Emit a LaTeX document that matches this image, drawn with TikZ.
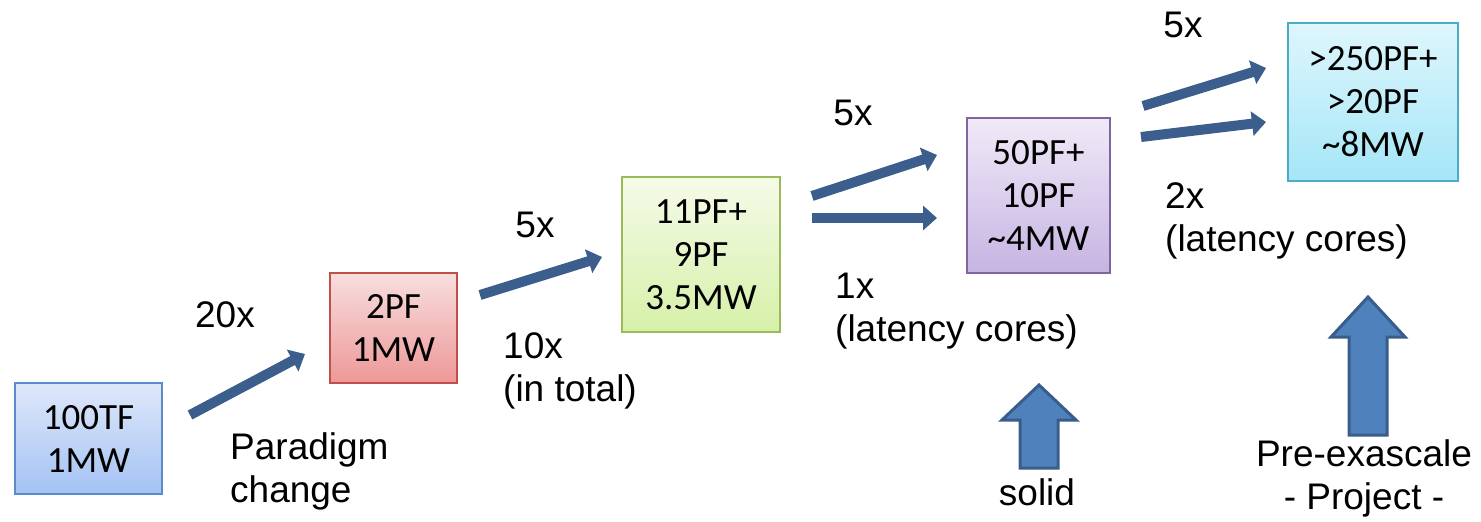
\documentclass[tikz,border=0pt]{standalone}
\usepackage{fontspec}
\setmainfont{Liberation Sans}
\newfontfamily\boxfont{Carlito}
\usepackage{xcolor}
\usepackage{tikz}
\usetikzlibrary{arrows.meta}
\usetikzlibrary{positioning}
\definecolor{flowblue}{RGB}{59,94,140}
\definecolor{upfill}{RGB}{79,129,189}
\definecolor{upline}{RGB}{56,93,138}
\definecolor{blueline}{RGB}{91,140,200}
\definecolor{redline}{RGB}{192,80,77}
\definecolor{greenline}{RGB}{155,187,89}
\definecolor{purpleline}{RGB}{128,100,162}
\definecolor{cyanline}{RGB}{75,172,198}

\begin{document}
\begin{tikzpicture}[x=1pt, y=-1pt]

                \def\hw{37}
                \def\sw{19}

                % looks of the boxes, labels and arrows
                \tikzset{
                    box/.style={draw, line width=1.5pt, align=center,
                        inner sep=0pt,
                        font=\boxfont\fontsize{37}{43}\selectfont},
                    lbl/.style={align=left, inner sep=0pt,
                        font=\fontsize{37}{43}\selectfont},
                    flow/.style={line width=10pt, draw=flowblue,
                        -{Triangle[length=14pt,width=24pt]}},
                    bigup/.style={fill=upfill, draw=upline,
                        line width=3pt, line join=miter}
                }

                \useasboundingbox (0,0) rectangle (1481,522);

                % Scope holding the five machine boxes
                \begin{scope}
                    \node (b1) [box, draw=blueline, minimum width=147pt,
                        minimum height=111pt, top color={rgb,255:red,222;green,232;blue,250},
                        bottom color={rgb,255:red,164;green,194;blue,244}]
                        at (88.5,438.5) {100TF\\1MW};
                    \node (b2) [box, draw=redline, minimum width=127pt,
                        minimum height=110pt, top color={rgb,255:red,248;green,222;blue,222},
                        bottom color={rgb,255:red,238;green,152;blue,152}]
                        at (393.5,328) {2PF\\1MW};
                    \node (b3) [box, draw=greenline, minimum width=158pt,
                        minimum height=155pt, top color={rgb,255:red,245;green,251;blue,233},
                        bottom color={rgb,255:red,214;green,240;blue,168}]
                        at (701,254.5) {11PF+\\9PF\\3.5MW};
                    \node (b4) [box, draw=purpleline, minimum width=143pt,
                        minimum height=155pt, top color={rgb,255:red,240;green,234;blue,248},
                        bottom color={rgb,255:red,198;green,180;blue,226}]
                        at (1038.5,195.5) {50PF+\\10PF\\\textasciitilde4MW};
                    \node (b5) [box, draw=cyanline, minimum width=170pt,
                        minimum height=158pt, top color={rgb,255:red,222;green,246;blue,252},
                        bottom color={rgb,255:red,165;green,230;blue,247}]
                        at (1373,102) {>250PF+\\>20PF\\\textasciitilde8MW};
                \end{scope}

                % Scope with the texts beside the arrows
                \begin{scope}
                    \node (t20) [lbl] at (225,315) {20x};
                    \node (tpar) [lbl, anchor=west] at (230,471) {Paradigm\\change};
                    \node (t5a) [lbl] at (535,225) {5x};
                    \node (t10) [lbl, anchor=west] at (503,371) {10x\\(in total)};
                    \node (t5b) [lbl] at (853,113) {5x};
                    \node (t1) [lbl, anchor=west] at (835,311) {1x\\(latency cores)};
                    \node (tsol) [lbl] at (1037,492) {solid};
                    \node (t5c) [lbl] at (1183,25) {5x};
                    \node (t2) [lbl, anchor=west] at (1165,221) {2x\\(latency cores)};
                    \node (tpre) [lbl, align=center] at (1364,478) {Pre-exascale\\- Project -};
                \end{scope}

                % free ends of the growth arrows
                \coordinate (a1s) at (190,415);
                \coordinate (a1e) at (305,354);
                \coordinate (a2s) at (480,295);
                \coordinate (a2e) at (602,257);
                \coordinate (a3s) at (812,196);
                \coordinate (a3e) at (937,155);
                \coordinate (a4s) at (812,218);
                \coordinate (a4e) at (937,218);
                \coordinate (a5s) at (1143,106);
                \coordinate (a5e) at (1266,68);
                \coordinate (a6s) at (1141,137);
                \coordinate (a6e) at (1266,122);

                \begin{scope}[flow]
                    \draw (a1s) -- (a1e);
                    \draw (a2s) -- (a2e);
                    \draw (a3s) -- (a3e);
                    \draw (a4s) -- (a4e);
                    \draw (a5s) -- (a5e);
                    \draw (a6s) -- (a6e);
                \end{scope}

                % the two block arrows pointing up
                \draw[bigup] (1039,385) -- (1039+\hw,420) -- (1039+\sw,420)
                    -- (1039+\sw,468) -- (1039-\sw,468) -- (1039-\sw,420)
                    -- (1039-\hw,420) -- cycle;
                \draw[bigup] (1368,297) -- (1368+\hw,337) -- (1368+\sw,337)
                    -- (1368+\sw,435) -- (1368-\sw,435) -- (1368-\sw,337)
                    -- (1368-\hw,337) -- cycle;

\end{tikzpicture}
\end{document}
